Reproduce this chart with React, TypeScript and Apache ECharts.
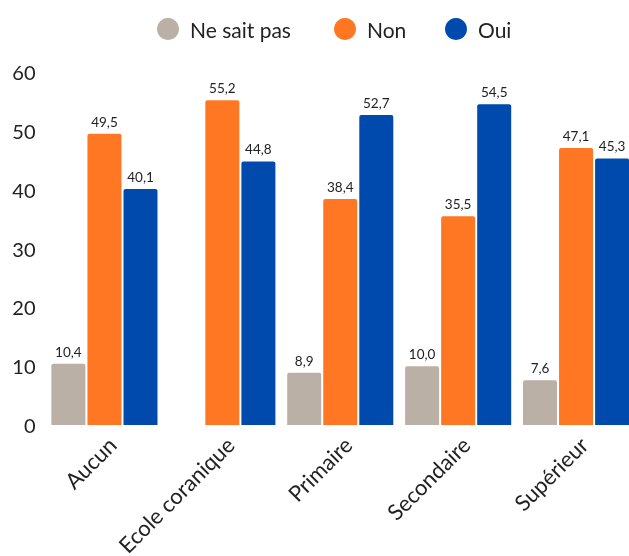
import React, { useEffect, useRef } from "react";
import * as echarts from "echarts";

const categories = ["Aucun", "Ecole coranique", "Primaire", "Secondaire", "Supérieur"];
const neSaitPas = [10.4, null, 8.9, 10.0, 7.6];
const non = [49.5, 55.2, 38.4, 35.5, 47.1];
const oui = [40.1, 44.8, 52.7, 54.5, 45.3];
const yTicks = [0, 10, 20, 30, 40, 50, 60];
const legendNames = ["Ne sait pas", "Non", "Oui"];

const FONT = "Lato, 'Noto Sans', sans-serif";

export default function App() {
  const ref = useRef<HTMLDivElement>(null);
  useEffect(() => {
    const chart = echarts.init(ref.current!, null, { renderer: "svg" });
    const label = {
      show: true,
      position: "top" as const,
      distance: 5,
      color: "#222",
      fontSize: 13.5,
      fontFamily: FONT,
      formatter: (p: any) => (p.value == null ? "" : Number(p.value).toFixed(1).replace(".", ",")),
    };
    const mk = (name: string, data: any[], color: string) => ({
      name,
      type: "bar",
      data,
      barGap: "6%",
      barCategoryGap: "10%",
      itemStyle: { color, borderRadius: [2, 2, 0, 0] },
      label,
    });
    const legendLefts = [157, 334, 445];
    chart.setOption({
      animation: false,
      legend: legendNames.map((n, i) => ({
        top: 18,
        left: legendLefts[i],
        padding: 0,
        icon: "circle",
        itemWidth: 22,
        itemHeight: 22,
        textStyle: { fontSize: 21, color: "#222", fontFamily: FONT, padding: [0, 0, 0, 6] },
        data: [n],
      })),
      grid: { left: 45.5, right: -6, top: 72, bottom: 131, containLabel: false, outerBoundsMode: "none" },
      xAxis: {
        type: "category",
        data: categories,
        axisLine: { show: false },
        axisTick: { show: false },
        axisLabel: {
          rotate: 45,
          fontSize: 22,
          color: "#222",
          fontFamily: FONT,
          margin: 8,
          interval: 0,
          verticalAlign: "top",
        },
      },
      yAxis: {
        type: "value",
        min: yTicks[0],
        max: yTicks[yTicks.length - 1],
        interval: 10,
        splitLine: { show: false },
        axisLine: { show: false },
        axisTick: { show: false },
        axisLabel: { fontSize: 20, color: "#222", fontFamily: FONT, margin: 10 },
      },
      series: [
        mk("Ne sait pas", neSaitPas, "#BBB0A5"),
        mk("Non", non, "#FF7722"),
        mk("Oui", oui, "#004AAD"),
      ],
    });
    return () => chart.dispose();
  }, []);
  return (
    <div
      ref={ref}
      style={{ position: "fixed", left: 0, top: 0, width: 629, height: 556 }}
    />
  );
}
